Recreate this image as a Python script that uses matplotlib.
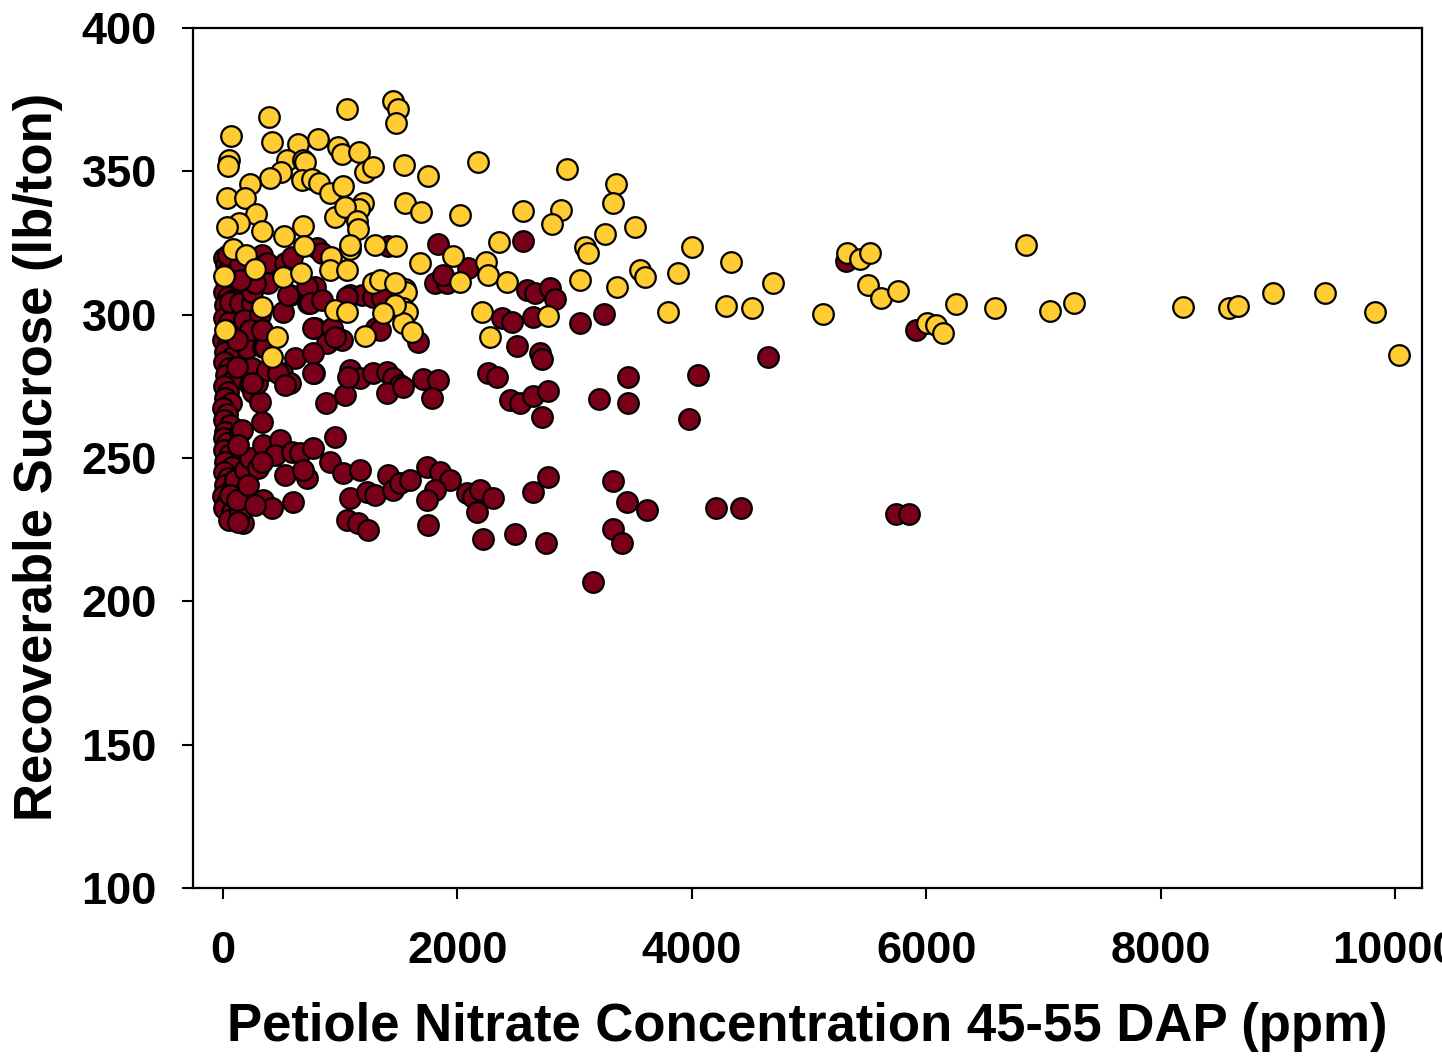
import matplotlib
matplotlib.use("Agg")
import matplotlib.pyplot as plt

# petiole nitrate (ppm) vs recoverable sucrose (lb/ton)
goldX = [1450, 1493, 1476, 1058, 392, 68, 418, 51, 43, 640, 810, 981, 1015, 1160,
         1211, 1279, 546, 682, 699, 495, 401, 674, 759, 819, 230, 34, 188, 913,
         1023, 1194, 1160, 955, 1041, 281, 136, 34, 333, 520, 682, 1143, 1151, 1296,
         85, 691, 196, 273, 9, 512, 665, 921, 1083, 913, 1058, 1476, 1544, 1748,
         2175, 1552, 1689, 2021, 1680, 1962, 1279, 1339, 1484, 1552, 2021, 2934,
         3352, 3326, 2559, 2883, 2806, 3258, 3514, 4000, 2354, 2243, 2260, 3087,
         3113, 3045, 3360, 3557, 3599, 3881, 2422, 4333, 4691, 3795, 4290, 4512,
         5117, 5322, 5433, 5518, 5501, 5612, 5757, 6004, 6081, 6141, 6252, 6584,
         6849, 7053, 7258, 8188, 8580, 8657, 8955, 9399, 9825, 10030, 1561, 1535,
         1569, 1535, 1612, 2209, 2277, 2772, 1467, 1467, 1365, 955, 1058, 1211, 17,
         461, 418, 333, 1083]
goldY = [374.5, 371.7, 366.9, 371.7, 369, 362.3, 360.2, 354, 351.9, 359.5, 361.3,
         358.5, 356, 356.7, 349.8, 351.5, 354, 354, 353.3, 349.8, 347.7, 347, 347.3,
         346, 345.6, 340.7, 340.7, 342.4, 344.9, 339, 336.9, 334.1, 337.6, 335.1,
         332, 330.6, 329.2, 327.4, 330.9, 332.7, 329.9, 324.3, 322.9, 324, 320.8,
         315.9, 313.5, 313.1, 314.5, 320.1, 322.9, 315.6, 315.6, 324, 352.2, 348.4,
         353.3, 339, 335.8, 334.8, 318, 320.5, 311.1, 312.1, 310.4, 309, 311.4,
         350.8, 345.6, 339, 336.2, 336.5, 331.6, 328.1, 330.6, 323.6, 325.4, 318.4,
         313.8, 323.6, 321.5, 312.1, 309.7, 315.6, 313.1, 314.5, 311.4, 318.4,
         311.1, 300.9, 303, 302.3, 300.2, 321.5, 319.4, 321.5, 310.4, 305.8, 308.3,
         297, 296.4, 293.6, 303.7, 302.3, 324.3, 301.3, 304.1, 302.7, 302.3, 303,
         307.6, 307.6, 300.9, 285.9, 307.9, 302.3, 300.9, 297.1, 294, 300.9, 292.2,
         299.5, 311.1, 303.4, 300.6, 301.6, 300.9, 292.6, 294.7, 292.2, 285.2,
         302.7, 324.3]

maroonX = [9, 26, 51, 17, 60, 9, 43, 85, 17, 68, 9, 51, 26, 94, 0, 43, 17, 77, 9,
           51, 26, 85, 9, 43, 17, 68, 0, 34, 9, 60, 17, 5, 34, 9, 51, 17, 77, 9, 43,
           17, 68, 0, 34, 9, 77, 51, 171, 145, 102, 171, 60, 188, 230, 299, 145, 333,
           230, 256, 316, 205, 341, 247, 290, 162, 60, 145, 247, 290, 358, 512, 572,
           725, 785, 785, 938, 887, 1015, 1083, 1186, 1314, 1305, 614, 503, 572, 776,
           879, 1041, 1083, 1169, 1280, 1399, 1450, 1510, 1399, 1706, 1834, 1783,
           1663, 1808, 1911, 1877, 2090, 2559, 1834, 1407, 5314, 5911, 1339, 1339,
           1535, 955, 341, 486, 444, 589, 657, 768, 529, 716, 682, 913, 1024, 1169,
           341, 418, 597, 1083, 1228, 1297, 1058, 1152, 1237, 1407, 1450, 1510, 1595,
           1740, 1851, 1936, 1808, 1740, 1749, 2081, 2133, 2192, 2303, 2167, 2218,
           2491, 2755, 2644, 2772, 3327, 3446, 3617, 3327, 3403, 3156, 4205, 4418,
           5740, 5851, 4649, 4052, 3975, 3455, 3455, 3207, 2721, 2448, 2533, 2644,
           2772, 2260, 2337, 2508, 2704, 2721, 2380, 2465, 2593, 2661, 2789, 2832,
           2644, 3045, 3250, 43, 333, 375, 529, 589, 802, 845, 716, 554, 384, 247,
           742, 845, 1058, 1280, 1356, 768, 930, 955, 768, 768, 119, 375, 469, 247,
           529, 1066, 145, 273, 179, 316, 230, 119, 333, 145, 128, 119, 273, 213,
           333, 128]
maroonY = [319.8, 317.3, 315.6, 312.8, 310.4, 307.9, 306.2, 305.1, 303.4, 301.3,
           298.8, 297.5, 294.7, 292.9, 291.2, 289.4, 287, 285.2, 283.5, 281.4, 279,
           277.2, 275.1, 273, 270.9, 269.2, 267.5, 265.4, 263.3, 261.5, 259.1, 257,
           255.2, 252.8, 251, 248.6, 246.9, 245.1, 243, 240.6, 238.9, 236.8, 234.7,
           232.6, 231.2, 228.4, 227.3, 231.2, 242.3, 237.8, 237.1, 245.8, 250, 246.5,
           259.1, 262.6, 275.5, 273, 269.5, 288.4, 288.7, 281.4, 276.2, 259.8, 304.4,
           304.1, 304.1, 297.5, 288.7, 301, 306.9, 304.1, 309.7, 295.4, 294, 290.1,
           291.2, 306.9, 306.9, 306.2, 295.4, 284.9, 279.7, 276.2, 279.7, 269.2, 272,
           280.7, 277.9, 279.7, 280, 277.9, 275.5, 272.7, 277.6, 277.2, 270.9, 290.5,
           311.1, 311.1, 313.9, 316.3, 325.7, 324.7, 324, 318.7, 294.7, 307.6, 294.7,
           274.8, 257.3, 254.6, 256.3, 251, 252.1, 251.8, 253.5, 244.1, 243, 245.8,
           248.6, 244.8, 245.8, 235.4, 232.6, 234.7, 236.1, 238.2, 237.1, 228.4,
           227.3, 224.9, 244.1, 238.9, 241.3, 242.3, 246.9, 245.1, 242.3, 238.9,
           235.4, 226.6, 237.8, 236.4, 238.9, 236.1, 231.2, 221.8, 223.5, 220.4,
           238.2, 243.4, 242, 234.7, 231.9, 225.2, 220.4, 206.8, 232.6, 232.6, 230.5,
           230.5, 285.2, 279, 263.6, 278.3, 269.2, 270.6, 264.3, 270.2, 269.2, 271.7,
           273.4, 279.7, 278.3, 289.1, 286.6, 284.5, 298.8, 297.5, 308.6, 307.6,
           309.3, 305.5, 299.2, 297.1, 300.2, 320.8, 320.8, 318, 318, 320.1, 323.3,
           321.5, 309.7, 306.9, 311.1, 307.9, 304.1, 305.1, 306.2, 306.2, 305.8,
           295.4, 295.4, 292.2, 286.6, 279.7, 281.8, 280.7, 279.7, 276.2, 275.5,
           278.3, 317.3, 311.1, 298.1, 299.9, 294.7, 291.2, 294.7, 312.1, 254.6,
           235.4, 233.6, 240.6, 248.6, 227.7]

xTicks = [0, 2000, 4000, 6000, 8000, 10000]
yTicks = [100, 150, 200, 250, 300, 350, 400]

plt.rcParams["font.family"] = ["Liberation Sans", "DejaVu Sans"]
plt.rcParams["font.weight"] = "bold"

fig = plt.figure(figsize=(14.42, 10.57), dpi=100)
ax = fig.add_axes([193 / 1442, 1 - 888 / 1057, 1229 / 1442, 860 / 1057])

ax.scatter(maroonX, maroonY, s=220, c="#7A0019", edgecolors="black", linewidths=1.6, zorder=3)
ax.scatter(goldX, goldY, s=220, c="#FFCC33", edgecolors="black", linewidths=1.6, zorder=4)

ax.set_xlim(-256, 10227)
ax.set_ylim(100, 400)
ax.set_xticks(xTicks)
ax.set_yticks(yTicks)

for side in ["top", "right", "bottom", "left"]:
    ax.spines[side].set_linewidth(1.6)
ax.tick_params(axis="both", direction="out", length=8, width=1.5, labelsize=32.5)
ax.tick_params(axis="x", pad=23)
ax.tick_params(axis="y", pad=18)
for lbl in ax.get_xticklabels() + ax.get_yticklabels():
    lbl.set_fontweight("bold")

ax.set_xlabel("Petiole Nitrate Concentration 45-55 DAP (ppm)", fontsize=38, fontweight="bold")
ax.set_ylabel("Recoverable Sucrose (lb/ton)", fontsize=38, fontweight="bold")
ax.xaxis.label.set_va("center")
ax.yaxis.label.set_va("center")
ax.xaxis.set_label_coords(0.5, -0.1616)
ax.yaxis.set_label_coords(-0.126, 0.501)

fig.savefig("out.png", dpi=100)
plt.close(fig)
